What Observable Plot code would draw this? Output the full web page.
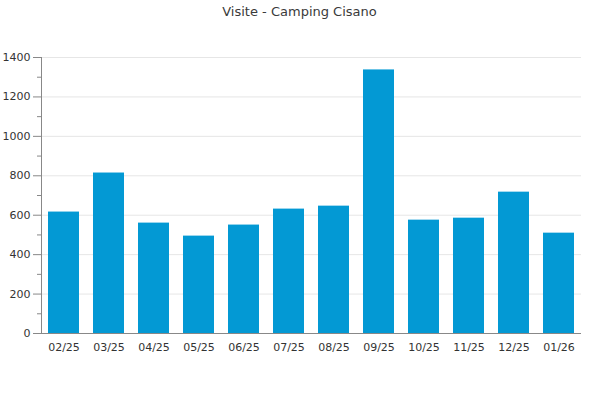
<!DOCTYPE html>
<html>
<head>
<meta charset="utf-8">
<script src="https://cdn.jsdelivr.net/npm/d3@7"></script>
<script src="https://cdn.jsdelivr.net/npm/@observablehq/plot@0.6"></script>
<style>
  html, body { margin: 0; padding: 0; background: #fff; }
  svg { font-family: "DejaVu Sans", sans-serif; }
</style>
</head>
<body>
<div id="chart"></div>
<script>
const title = "Visite - Camping Cisano";
const months = ["02/25","03/25","04/25","05/25","06/25","07/25","08/25","09/25","10/25","11/25","12/25","01/26"];
const visits = [616, 814, 560, 494, 550, 631, 646, 1337, 575, 585, 717, 509];
const majorTicks = [0, 200, 400, 600, 800, 1000, 1200, 1400];
const minorTicks = [100, 300, 500, 700, 900, 1100, 1300];

const data = months.map((m, i) => ({month: m, value: visits[i]}));

const chart = Plot.plot({
  width: 600,
  height: 400,
  marginLeft: 41,
  marginRight: 19,
  marginTop: 57,
  marginBottom: 67,
  style: {fontFamily: "DejaVu Sans, sans-serif", fontSize: "11px", color: "#333"},
  x: {domain: months, paddingInner: 0.31, paddingOuter: 0.155, label: null},
  y: {domain: [0, 1400], label: null},
  marks: [
    Plot.gridY(majorTicks, {stroke: "#e6e6e6", strokeOpacity: 1}),
    Plot.barY(data, {x: "month", y: "value", fill: "#0399d4"}),
    Plot.axisY(majorTicks, {tickSize: 8, tickPadding: 3, stroke: "#888", fill: "#333", fontSize: 11, label: null, tickFormat: d => String(d)}),
    Plot.axisY(minorTicks, {tickSize: 4, stroke: "#888", text: null, label: null}),
    Plot.axisX({tickSize: 0, tickPadding: 10, fill: "#333", fontSize: 11, label: null}),
    Plot.frame({anchor: "left", stroke: "#888"}),
    Plot.ruleY([0], {stroke: "#888"}),
    Plot.text([title], {frameAnchor: "top", dx: -12, dy: -51, fontSize: 13, fill: "#3a3a3a", text: d => d})
  ]
});
document.getElementById("chart").appendChild(chart);
</script>
</body>
</html>
